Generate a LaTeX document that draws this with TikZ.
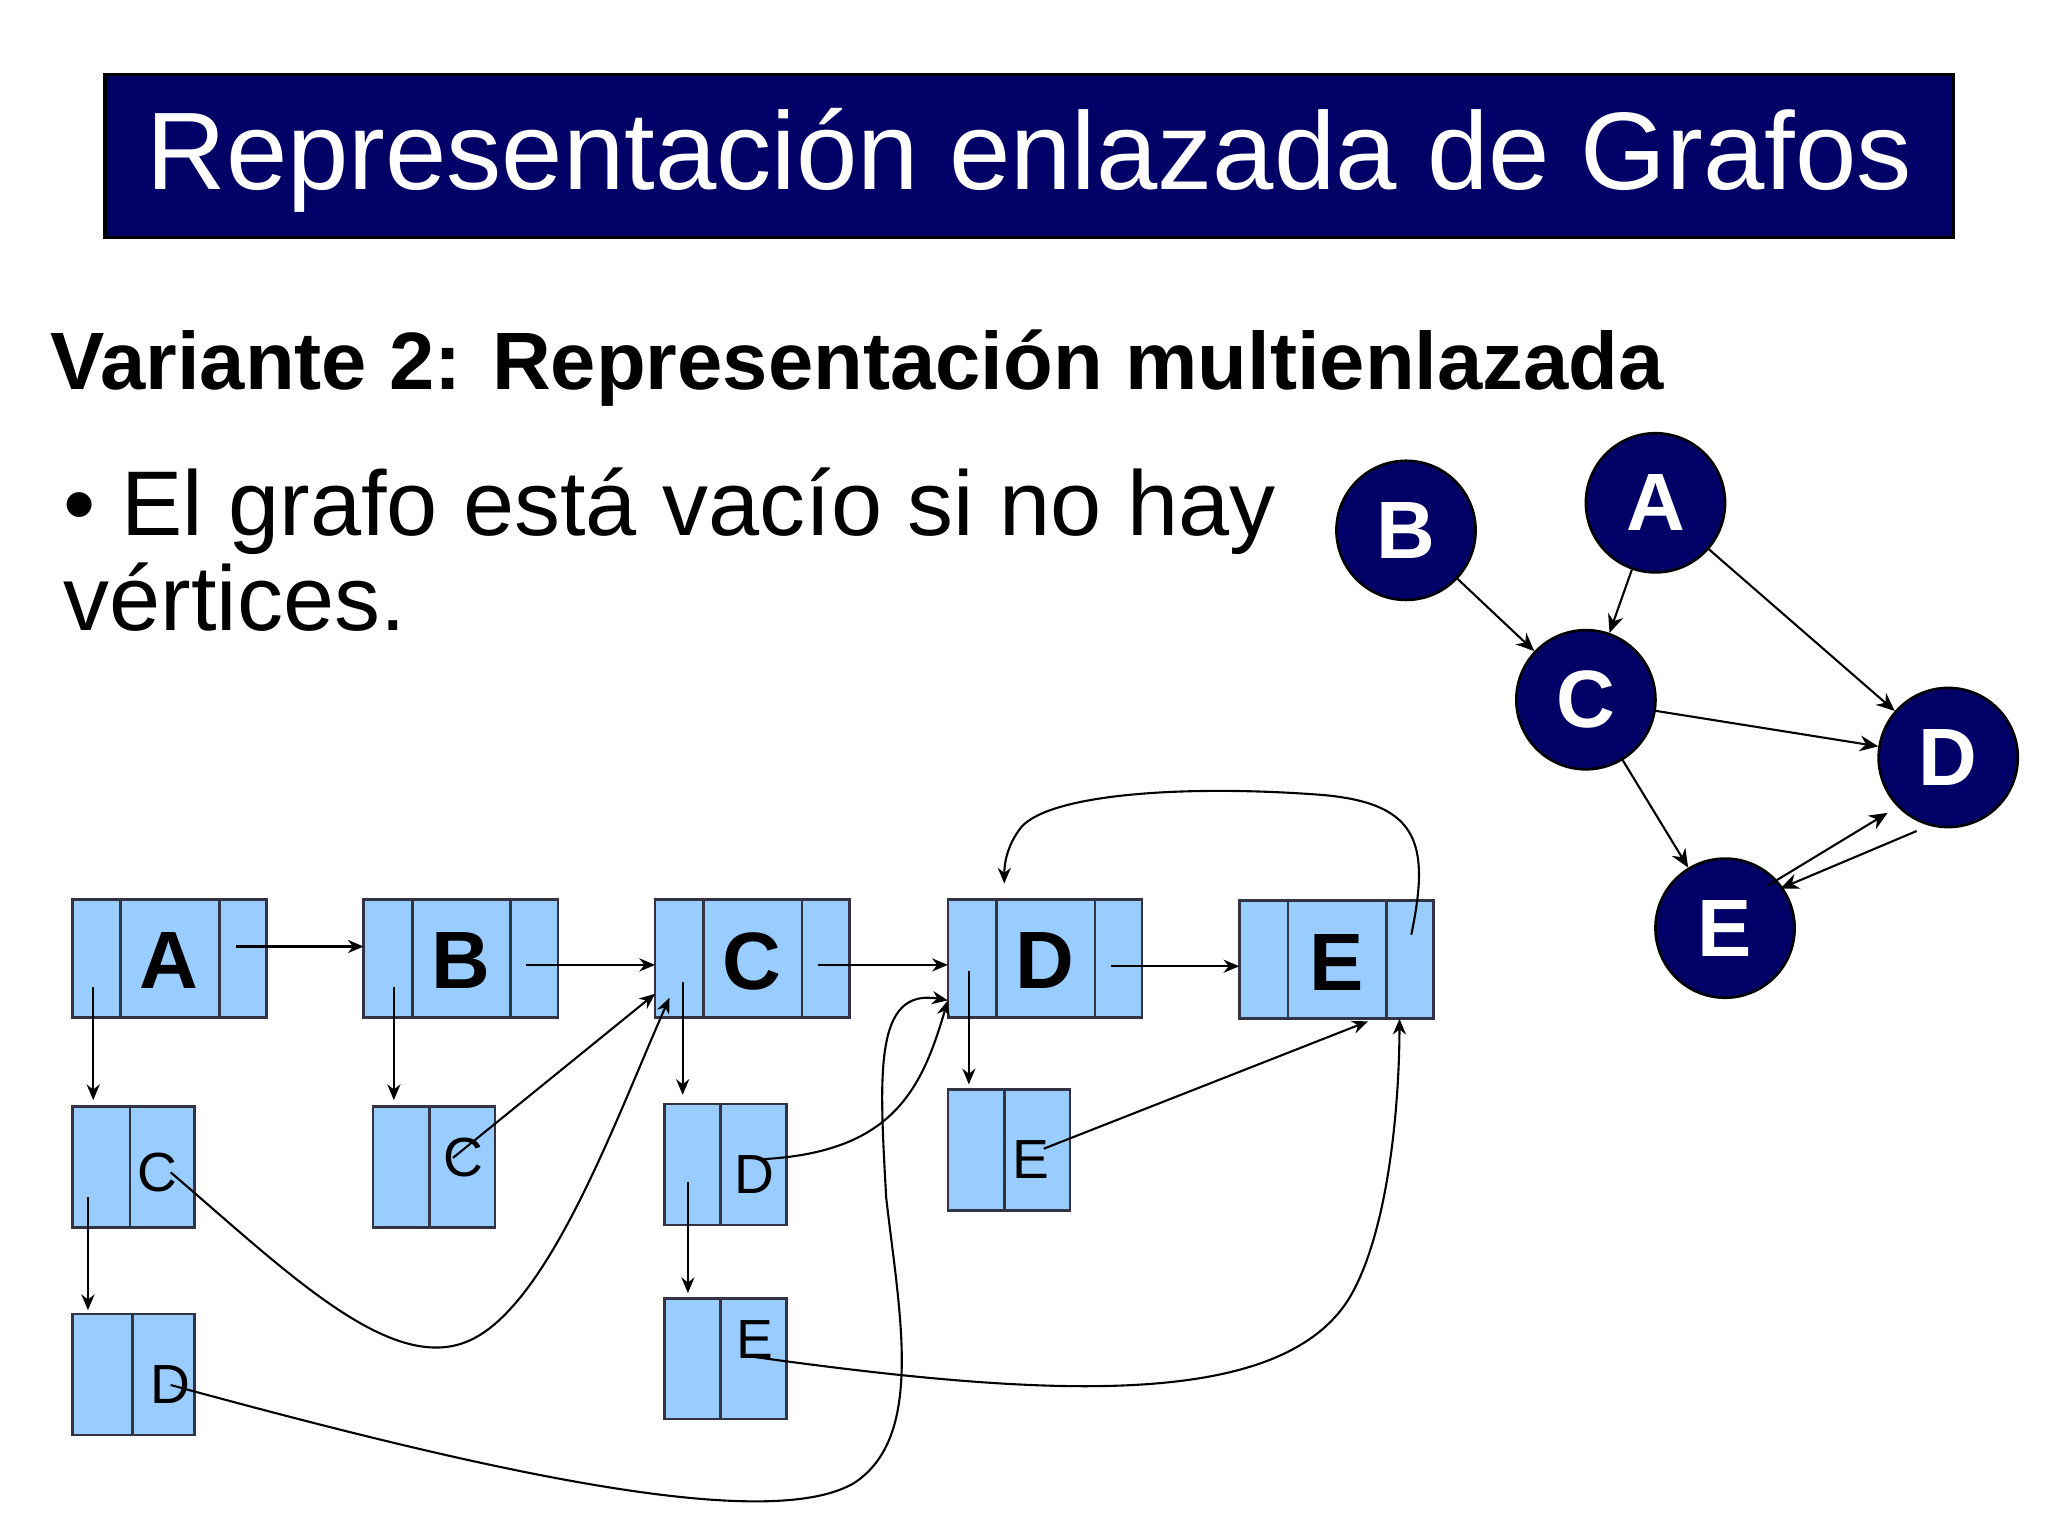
\documentclass[tikz,border=0pt]{standalone}
\usepackage{fontspec}
\setmainfont{Liberation Sans}
\usetikzlibrary{arrows.meta}
\definecolor{navy}{HTML}{000066}
\definecolor{cellblue}{HTML}{99CCFF}
\definecolor{cellline}{HTML}{333344}
\tikzset{
 cell/.style={draw=cellline,fill=cellblue,line width=1pt},
 vx/.style={circle,draw=black,fill=navy,line width=1pt,minimum size=53pt,inner sep=0pt,text=white,font=\fontsize{31}{31}\selectfont\bfseries},
 big/.style={font=\fontsize{31}{31}\selectfont\bfseries,inner sep=0pt},
 small/.style={font=\fontsize{21}{21}\selectfont,inner sep=0pt},
 lnk/.style={line width=0.8pt,-{Stealth[length=6pt,width=5pt]}},
 glnk/.style={line width=0.8pt,-{Stealth[length=7pt,width=6pt]}},
}
\begin{document}
\begin{tikzpicture}[x=0.5pt,y=-0.5pt]
\useasboundingbox (0,0) rectangle (1560,1170);
\fill[white] (0,0) rectangle (1560,1170);
% title
\draw[fill=navy,line width=1.2pt] (80,57) rectangle (1488,181);
\node[text=white,font=\fontsize{42}{42}\selectfont,anchor=center] (title) at (784,122) {Representación enlazada de Grafos};
\node[anchor=base west,font=\fontsize{31}{31}\selectfont\bfseries,inner sep=0pt] (sub) at (38,297) {Variante 2: Representación multienlazada};
\node[anchor=base west,font=\fontsize{35}{35}\selectfont,inner sep=0pt] (b1) at (48,408) {• El grafo está vacío si no hay};
\node[anchor=base west,font=\fontsize{35}{35}\selectfont,inner sep=0pt] (b2) at (48,480) {vértices.};
% graph
\node[vx] (gB) at (1071,404) {B};
\node[vx] (gA) at (1261,383) {A};
\node[vx] (gC) at (1208,533) {C};
\node[vx] (gD) at (1484,577) {D};
\node[vx] (gE) at (1314,707) {E};
\draw[glnk] (gB) -- (gC);
\draw[glnk] (gA) -- (gC);
\draw[glnk] (gA) -- (gD);
\draw[glnk] (gC) -- (gD);
\draw[glnk] (gC) -- (gE);
\draw[glnk] ([xshift=-3pt,yshift=-3pt]gE.north east) -- ([xshift=-4pt,yshift=-2pt]gD.south west);
\draw[glnk] ([xshift=-12pt,yshift=-1pt]gD.south) -- ([xshift=2pt,yshift=-4pt]gE.north east);
% vertex list
\foreach \n/\x/\y in {A/55/685,B/277/685,C/499/685,D/722/685,E/944/686}{
 \draw[cell] (\x,\y) rectangle ++(148,90);
 \draw[cell] (\x+37,\y) -- ++(0,90);
 \draw[cell] (\x+112,\y) -- ++(0,90);
 \node[big] (v\n) at (\x+74,\y+47) {\n};
}
\draw[lnk] (180,721) -- (277,721);
\draw[lnk] (401,735) -- (499,735);
\draw[lnk] (623,735) -- (722,735);
\draw[lnk] (846,736) -- (944,736);
% edge nodes
\foreach \nm/\x/\y/\d/\l/\lx/\ly in {aC/55/843/44/C/120/893, aD/55/1001/46/D/130/1055, bC/284/843/43/C/353/882, cD/506/841/43/D/575/895, cE/506/989/43/E/575/1020, dE/722/830/43/E/785/883}{
 \draw[cell] (\x,\y) rectangle ++(93,92);
 \draw[cell] (\x+\d,\y) -- ++(0,92);
 \node[small] (e\nm) at (\lx,\ly) {\l};
}
\draw[lnk] (71,752) -- (71,838);
\draw[lnk] (67,912) -- (67,998);
\draw[lnk] (300,752) -- (300,838);
\draw[lnk] (520,748) -- (520,834);
\draw[lnk] (524,900) -- (524,985);
\draw[lnk] (738,740) -- (738,826);
% cross links
\draw[lnk] (130,893) .. controls (220,970) and (300,1050) .. (360,1020) .. controls (420,990) and (470,850) .. (510,760);
\draw[lnk] (345,882) -- (499,757);
\draw[lnk] (580,883) .. controls (680,878) and (702,830) .. (722,762);
\draw[lnk] (130,1055) .. controls (350,1115) and (580,1170) .. (650,1130) .. controls (705,1095) and (685,1000) .. (675,912) .. controls (670,820) and (665,752) .. (722,762);
\draw[lnk] (570,1033) .. controls (800,1065) and (980,1075) .. (1030,985) .. controls (1060,930) and (1066,830) .. (1066,776);
\draw[lnk] (795,875) -- (1042,778);
\draw[lnk] (1075,712) .. controls (1090,640) and (1080,610) .. (1000,605) .. controls (900,598) and (800,605) .. (778,630) .. controls (766,645) and (765,660) .. (765,673);
\end{tikzpicture}
\end{document}
